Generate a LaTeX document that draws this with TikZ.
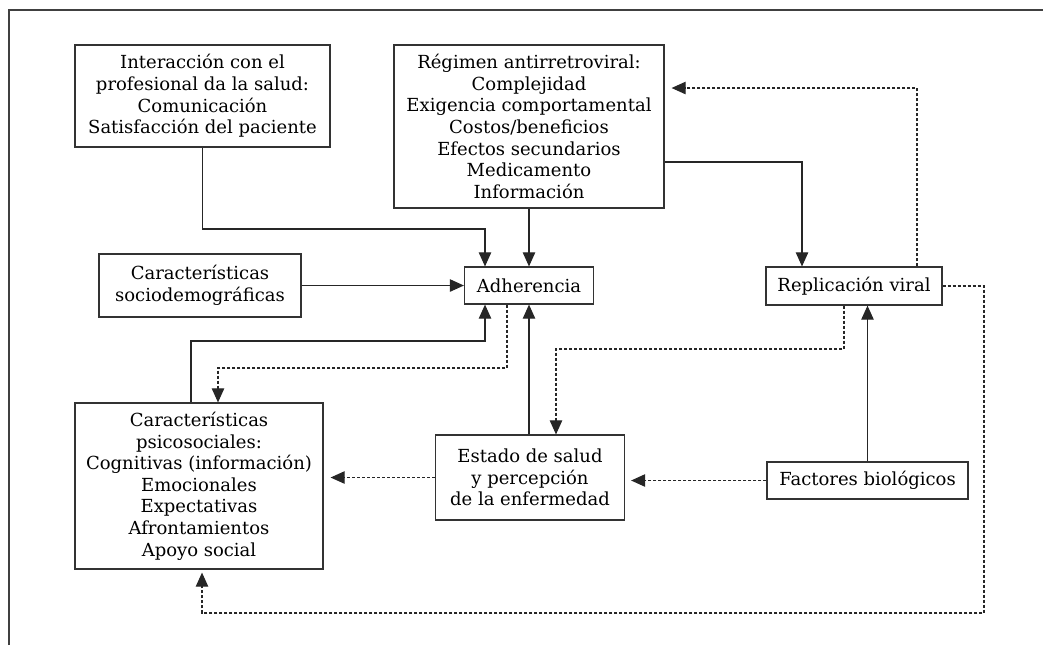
\documentclass[tikz,border=0pt]{standalone}
\usepackage{fontspec}
\setmainfont{DejaVu Serif}
\usetikzlibrary{arrows.meta}

\begin{document}
\begin{tikzpicture}[x=0.5pt, y=-0.5pt,
  font=\fontsize{9}{10.8}\selectfont,
  box/.style={draw=black!80, line width=0.6pt, align=center, inner sep=0pt},
  arr/.style={-{Triangle[length=7pt,width=6.2pt]}, line width=0.55pt, black!85},
  darr/.style={arr, dash pattern=on 1.5pt off 1pt}]
  \useasboundingbox (0,0) rectangle (1043,645);
  \draw[black!75, line width=0.6pt] (9,645) -- (9,10) -- (1043,10);

  \node[box, minimum width=127.5pt, minimum height=51pt] (inter) at (202.5,96) {Interacción con el\\profesional da la salud:\\Comunicación\\Satisfacción del paciente};
  \node[box, minimum width=135pt, minimum height=81.5pt] (regimen) at (529,126.5) {Régimen antirretroviral:\\Complejidad\\Exigencia comportamental\\Costos/beneficios\\Efectos secundarios\\Medicamento\\Información};
  \node[box, minimum width=64.5pt, minimum height=18.5pt] (adher) at (529,285.5) {Adherencia};
  \node[box, minimum width=101pt, minimum height=31.5pt] (socio) at (200,285.5) {Características\\sociodemográficas};
  \node[box, minimum width=88pt, minimum height=19pt] (replic) at (854,286) {Replicación viral};
  \node[box, minimum width=124pt, minimum height=83pt] (psico) at (199,486) {Características\\psicosociales:\\Cognitivas (información)\\Emocionales\\Expectativas\\Afrontamientos\\Apoyo social};
  \node[box, minimum width=94.5pt, minimum height=42.5pt] (estado) at (530,477.5) {Estado de salud\\y percepción\\de la enfermedad};
  \node[box, minimum width=100.5pt, minimum height=18.5pt] (factores) at (867.5,480.5) {Factores biológicos};

  \coordinate (j1) at (485,229);
  \coordinate (p1) at (191,341);
  \coordinate (a1) at (507,368);
  \coordinate (a2) at (218,368);
  \coordinate (r1) at (802,162);
  \coordinate (r2) at (917,88);
  \coordinate (r3) at (984,613);
  \coordinate (r4) at (202,613);
  \coordinate (v1) at (844,349);
  \coordinate (v2) at (556,349);

  \draw[arr] (inter.south) |- (j1) -- (j1 |- adher.north);
  \draw[arr] (regimen) -- (adher);
  \draw[arr] (socio) -- (adher);
  \draw[arr] (p1 |- psico.north) -- (p1) -| (j1 |- adher.south);
  \draw[arr] (estado.north -| adher) -- (adher);
  \draw[arr] (regimen.east |- r1) -| (r1 |- replic.north);
  \draw[arr] (factores.north) -- (factores.north |- replic.south);

  \draw[darr] (a1 |- adher.south) -- (a1) -- (a2) -- (a2 |- psico.north);
  \draw[darr, shorten >=3.5pt] (r2 |- replic.north) -- (r2) -- (r2 -| regimen.east);
  \draw[darr, shorten >=1.5pt] (replic.east) -| (r3) -- (r4) -- (r4 |- psico.south);
  \draw[darr] (v1 |- replic.south) -- (v1) -- (v2) -- (v2 |- estado.north);
  \draw[darr, shorten >=3pt] (factores.west) -- (factores.west -| estado.east);
  \draw[darr, shorten >=3.5pt] (estado.west) -- (estado.west -| psico.east);
\end{tikzpicture}
\end{document}
